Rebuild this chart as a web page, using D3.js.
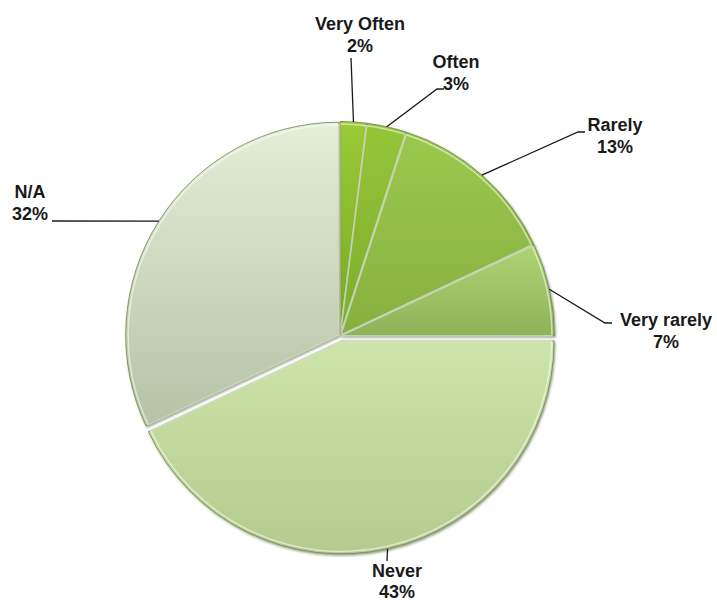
<!DOCTYPE html>
<html>
<head>
<meta charset="utf-8">
<script src="https://cdn.jsdelivr.net/npm/d3@7"></script>
<style>
  html, body { margin: 0; padding: 0; background: #ffffff; }
  svg { display: block; }
  text { font-family: "Liberation Sans", Arial, sans-serif; font-weight: bold; font-size: 18px; fill: #1a1a1a; }
</style>
</head>
<body>
<svg id="chart" width="717" height="603"></svg>
<script>
// ---- data ----
const categories = ["Very Often", "Often", "Rarely", "Very rarely", "Never", "N/A"];
const values = [2, 3, 13, 7, 43, 32];
const percentLabels = ["2%", "3%", "13%", "7%", "43%", "32%"];

// ---- styles ----
const topColors    = ["#9acb36", "#94c63a", "#9bc94e", "#add474", "#cde5aa", "#e4eed8"];
const bottomColors = ["#78a826", "#7eac2c", "#86b040", "#90b258", "#b4ca8e", "#b6c2a4"];
const explode      = [1.5, 1.5, 1.5, 1.5, 5, 1.5];
// label layout: elbow point, end point, text centre x and first baseline
const labelLayout = [
  { elbow: [351, 58],  end: [351, 58],  tx: 360, ty: 30 },
  { elbow: [437, 89],  end: [444, 89],  tx: 456, ty: 68 },
  { elbow: [578, 132], end: [585, 132], tx: 615, ty: 131 },
  { elbow: [605, 323], end: [612, 323], tx: 666, ty: 326 },
  { elbow: [387, 561], end: [387, 561], tx: 397, ty: 577 },
  { elbow: [52, 221],  end: [52, 221],  tx: 30,  ty: 198 }
];
const lineGap = [22, 22, 22, 22, 21, 22];

const cx = 340, cy = 336, r = 213;
const svg = d3.select("#chart");
const defs = svg.append("defs");

categories.forEach((c, i) => {
  const g = defs.append("linearGradient")
    .attr("id", "grad" + i)
    .attr("x1", 0).attr("y1", 0).attr("x2", 0).attr("y2", 1);
  g.append("stop").attr("offset", "0%").attr("stop-color", topColors[i]);
  g.append("stop").attr("offset", "100%").attr("stop-color", bottomColors[i]);
});

const filter = defs.append("filter").attr("id", "shadow")
  .attr("x", "-10%").attr("y", "-10%").attr("width", "120%").attr("height", "120%");
filter.append("feDropShadow").attr("dx", 1).attr("dy", 1.5).attr("stdDeviation", 1.2)
  .attr("flood-color", "#3a4a20").attr("flood-opacity", 0.55);

const pie = d3.pie().sort(null).value(d => d).startAngle(0).endAngle(2 * Math.PI);
const arcs = pie(values);
const arc = d3.arc().innerRadius(0).outerRadius(r);

const g = svg.append("g").attr("transform", `translate(${cx},${cy})`);

const slices = g.selectAll("g.slice").data(arcs).enter().append("g")
  .attr("class", "slice")
  .attr("transform", (d, i) => {
    const a = (d.startAngle + d.endAngle) / 2;
    return `translate(${explode[i] * Math.sin(a)},${-explode[i] * Math.cos(a)})`;
  });

slices.append("path")
  .attr("d", arc)
  .attr("fill", (d, i) => `url(#grad${i})`)
  .attr("stroke", "#6f8a48")
  .attr("stroke-width", 0.8)
  .attr("filter", "url(#shadow)");

// white bevel highlight along edges
const innerArc = d3.arc().innerRadius(0).outerRadius(r - 2.5);
slices.append("path")
  .attr("d", innerArc)
  .attr("fill", "none")
  .attr("stroke", "rgba(255,255,255,0.55)")
  .attr("stroke-width", 1.5);

// leader lines and labels
const lg = svg.append("g");
arcs.forEach((d, i) => {
  const a = (d.startAngle + d.endAngle) / 2;
  const rr = r + explode[i];
  const sx = cx + rr * Math.sin(a);
  const sy = cy - rr * Math.cos(a);
  const L = labelLayout[i];
  lg.append("polyline")
    .attr("points", [[sx, sy], L.elbow, L.end].map(p => p.join(",")).join(" "))
    .attr("fill", "none")
    .attr("stroke", "#1a1a1a")
    .attr("stroke-width", 1.3);
  const t = lg.append("text").attr("text-anchor", "middle");
  t.append("tspan").attr("x", L.tx).attr("y", L.ty).text(categories[i]);
  t.append("tspan").attr("x", L.tx).attr("y", L.ty + lineGap[i]).text(percentLabels[i]);
});
</script>
</body>
</html>
